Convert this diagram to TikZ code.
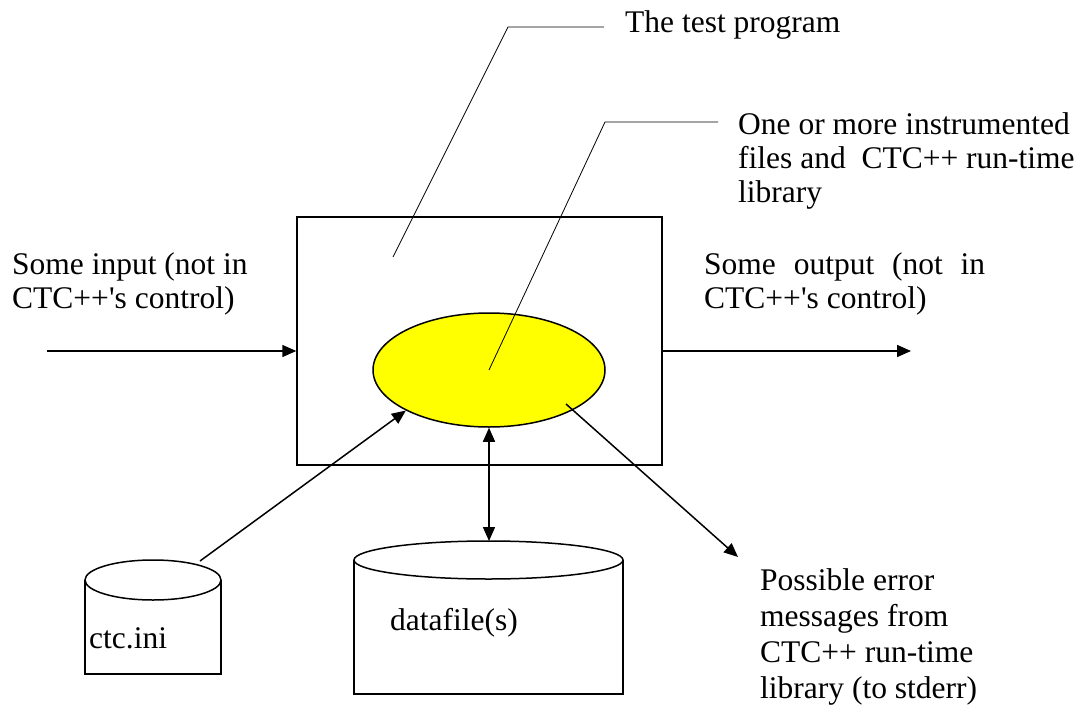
\documentclass[tikz,border=0pt]{standalone}
\usepackage{fontspec}
\setmainfont{Liberation Serif}
\usetikzlibrary{arrows.meta, positioning, shapes.geometric, calc}
\definecolor{libyellow}{RGB}{255,255,0}

\begin{document}
\begin{tikzpicture}[x=1pt, y=-1pt,
      arr/.style={line width=1.5pt, -{Triangle[length=14pt, width=12pt]}},
      leader/.style={line width=0.8pt, black},
      lbl/.style={inner sep=0, align=left, anchor=base west, font=\fontsize{31.5}{34}\selectfont},
      progbox/.style={rectangle, draw, line width=1.5pt, minimum width=365pt, minimum height=248pt, inner sep=0},
      libell/.style={ellipse, draw, line width=1.5pt, fill=libyellow, minimum width=232pt, minimum height=114pt, inner sep=0}]

      \useasboundingbox (0,0) rectangle (1084,706);

      % Program and library
      \node[progbox] (prog) at (479.5,341) {};
      \node[libell] (lib) at (489,370) {};

      % Data files
      \draw[line width=1.5pt] (85,580) -- (85,674) -- (221,674) -- (221,580);
      \draw[line width=1.5pt] (153,580) ellipse (68 and 20);
      \draw[line width=1.5pt] (354,560) -- (354,694) -- (623,694) -- (623,560);
      \draw[line width=1.5pt] (488.5,560) ellipse (134.5 and 19);
      \coordinate (ctctop) at (200,561);
      \coordinate (datatop) at (488.5,541);

      % Labels (base = last line)
      \node[lbl] (tptext) at (625,33) {The test program};
      \node[lbl] (libtext) at (738,202) {One or more instrumented\\files and\ \ CTC++ run-time\\library};
      \node[lbl] (intext) at (12,308) {Some input (not in\\CTC++\textquotesingle s control)};
      \node[lbl] (outtext) at (704,308) {\makebox[281pt][s]{Some output (not in}\\CTC++\textquotesingle s control)};
      \node[lbl] (ctctext) at (89,648) {ctc.ini};
      \node[lbl] (datatext) at (390,630) {datafile(s)};
      \node[lbl, font=\fontsize{31.5}{36}\selectfont] (errtext) at (760,698) {Possible error\\messages from\\CTC++ run-time\\library (to stderr)};

      % Arrows
      \coordinate (instart) at (47,351);
      \coordinate (outtip) at (911,351);
      \coordinate (errtip) at (738,557);
      \draw[arr] (instart) -- (prog.west |- instart);
      \draw[arr] (prog.east |- outtip) -- (outtip);
      \draw[arr] (ctctop) -- (lib.206);
      \draw[arr] ($(lib.center)+(77,34)$) -- (errtip);
      \draw[line width=1.5pt, {Triangle[length=14pt, width=12pt]}-{Triangle[length=14pt, width=12pt]}] (lib.south) -- (lib.south |- datatop);

      % Leader lines
      \coordinate (tpfoot) at (393,257);
      \draw[leader] (tpfoot) -- ++(115,-230) -- ++(96,0);
      \draw[leader] (lib.center) -- ++(116,-248) -- ++(113,0);
    \end{tikzpicture}
\end{document}
